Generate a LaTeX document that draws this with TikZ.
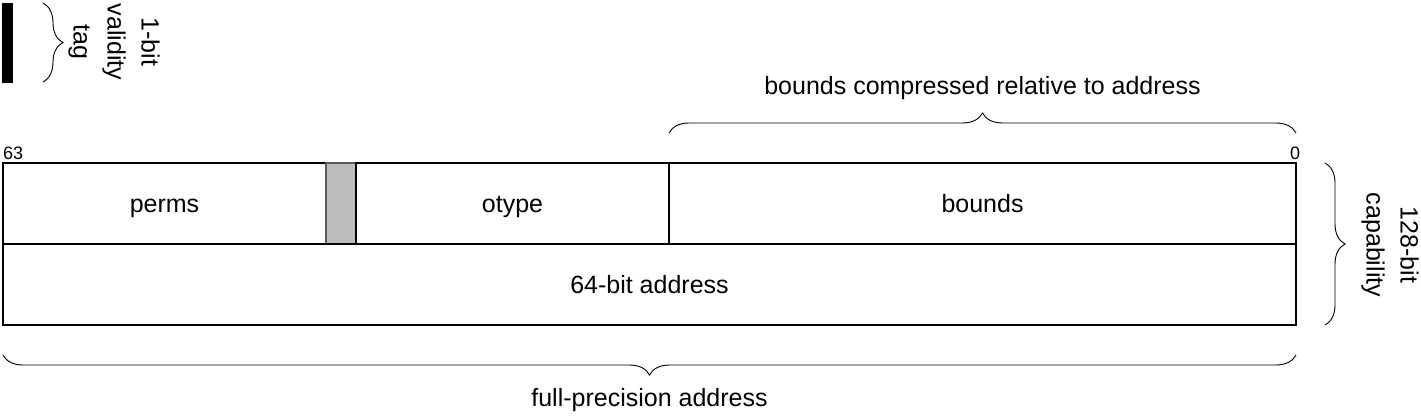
\documentclass[tikz,border=0pt]{standalone}
\usepackage{fontspec}
\setmainfont{Liberation Sans}
\usetikzlibrary{decorations.pathreplacing}
\definecolor{cellgray}{HTML}{BDBDBD}
\definecolor{cellgrayline}{HTML}{5A5A5A}
\begin{document}
\begin{tikzpicture}[x=1pt,y=-1pt,
  cell/.style={draw, line width=1.2pt, minimum height=81pt, inner sep=0pt, outer sep=0pt, text height=17pt, text depth=0pt, font=\fontsize{25}{30}\selectfont},
  lbl/.style={font=\fontsize{25}{34}\selectfont, align=center, inner sep=0pt},
  brc/.style={decorate, decoration={brace, amplitude=20pt}, line width=0.9pt},
  idx/.style={font=\fontsize{18}{20}\selectfont, inner sep=0pt}]
\useasboundingbox (0,0) rectangle (1421,415);
% validity tag
\node[fill=black, minimum width=11pt, minimum height=80pt, inner sep=0pt, outer sep=0pt] (tagbar) at (7.5,42.5) {};
\coordinate (tb1) at (43,3);
\coordinate (tb2) at (43,82);
\draw[brc] (tb1) -- (tb2);
\node[lbl, rotate=-90] (taglbl) at (114,42) {1-bit\\validity\\tag};
% cells
\node[cell, minimum width=323pt] (perms) at (164.5,203.5) {perms};
\node[cell, minimum width=30pt, fill=cellgray, draw=cellgrayline] (flag) at (341,203.5) {};
\node[cell, minimum width=313pt] (otype) at (512.5,203.5) {otype};
\node[cell, minimum width=627pt] (bounds) at (982.5,203.5) {bounds};
\node[cell, minimum width=1293pt] (addr) at (649.5,284.5) {64-bit address};
% bit indices
\node[idx, anchor=south west] (b63) at (3,160) {63};
\node[idx, anchor=south] (b0) at (1295,160) {0};
% top brace
\coordinate (t1) at (669,133);
\coordinate (t2) at (1296,133);
\draw[brc] (t1) -- (t2);
\node[lbl] (toplbl) at (982.5,88) {bounds compressed relative to address};
% right brace
\coordinate (r1) at (1325,163);
\coordinate (r2) at (1325,325);
\draw[brc] (r1) -- (r2);
\node[lbl, rotate=-90] (caplbl) at (1390,245) {128-bit\\capability};
% bottom brace
\coordinate (u1) at (1296,355);
\coordinate (u2) at (3,355);
\draw[brc] (u1) -- (u2);
\node[lbl] (botlbl) at (649.5,400) {full-precision address};
\end{tikzpicture}
\end{document}
